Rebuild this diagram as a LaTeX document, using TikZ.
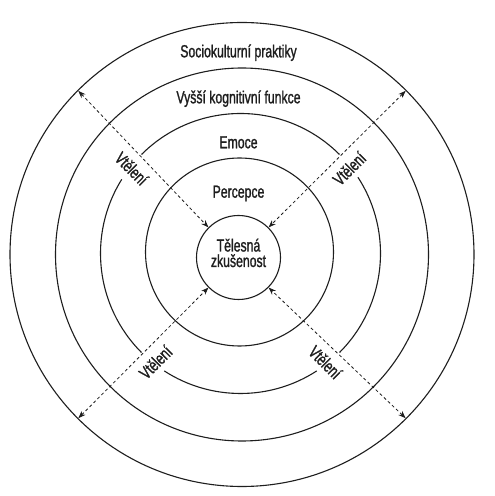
\documentclass[tikz,border=0pt]{standalone}
\usepackage{fontspec}
\setmainfont{Liberation Sans}[FakeStretch=0.7,FakeBold=1.2]
\usetikzlibrary{arrows.meta,calc}
\definecolor{ink}{HTML}{1E1E1E}
\begin{document}
\begin{tikzpicture}[x=1pt,y=1pt,
  ring/.style={circle, draw=ink, line width=1.1pt, inner sep=0pt, outer sep=0pt},
  ringpath/.style={draw=ink, line width=1.1pt},
  txt/.style={inner sep=0pt, font=\fontsize{17.5}{16}\selectfont, text=ink},
  lab/.style={inner sep=0pt, font=\fontsize{17.5}{16}\selectfont, text=ink},
  dasharrow/.style={draw=ink, line width=0.8pt, dash pattern=on 3pt off 2.6pt,
    arrows={Stealth[length=7.5pt,width=5.5pt]-Stealth[length=7.5pt,width=5.5pt]}, shorten <=0.5pt, shorten >=0.5pt}
]
\useasboundingbox (0,0) rectangle (495,496);
\fill[white] (0,0) rectangle (495,496);

% rings
\node[ring, minimum size=464pt] (c5) at (242,241.5) {};
\node[ring, minimum size=373pt] (c4) at (242,241.5) {};
\node[circle, inner sep=0pt, outer sep=0pt, minimum size=280pt] (c3) at (240.5,242.5) {};
\node[ring, minimum size=188pt] (c2) at (239.5,244) {};
\node[ring, minimum size=84pt] (c1) at (238.5,238.5) {};

% ring 3 with gaps for the labels
\draw[ringpath] (c3.45) arc[start angle=45, end angle=135, radius=140pt];
\draw[ringpath] (c3.148) arc[start angle=148, end angle=225, radius=140pt];
\draw[ringpath] (c3.237) arc[start angle=237, end angle=303, radius=140pt];
\draw[ringpath] (c3.315) arc[start angle=315, end angle=393, radius=140pt];

% ring texts
\node[txt, anchor=base] (soc) at (238.5,438.7) {Sociokulturní praktiky};
\node[txt, anchor=base] (vys) at (238.5,392.7) {Vyšší kognitivní funkce};
\node[txt, anchor=base] (emo) at (238.5,347.7) {Emoce};
\node[txt, anchor=base] (per) at (238.5,298.3) {Percepce};
\node[txt, anchor=base] (tel) at (238.5,244.5) {Tělesná};
\node[txt, anchor=base] (zku) at (238.5,229) {zkušenost};

% arrows
\draw[dasharrow] (c5.135) -- (c1.135);
\draw[dasharrow] (c5.45) -- (c1.45);
\draw[dasharrow] (c5.225) -- (c1.225);
\draw[dasharrow] (c5.315) -- (c1.315);

% labels
\node[lab, rotate=-45] (v1) at ($(c3.center)+(142:138pt)$) {Vtělení};
\node[lab, rotate=45]  (v2) at ($(c3.center)+(38:138pt)$) {Vtělení};
\node[lab, rotate=45]  (v3) at ($(c3.center)+(232:138pt)$) {Vtělení};
\node[lab, rotate=-45] (v4) at ($(c3.center)+(308:138pt)$) {Vtělení};
\end{tikzpicture}
\end{document}
